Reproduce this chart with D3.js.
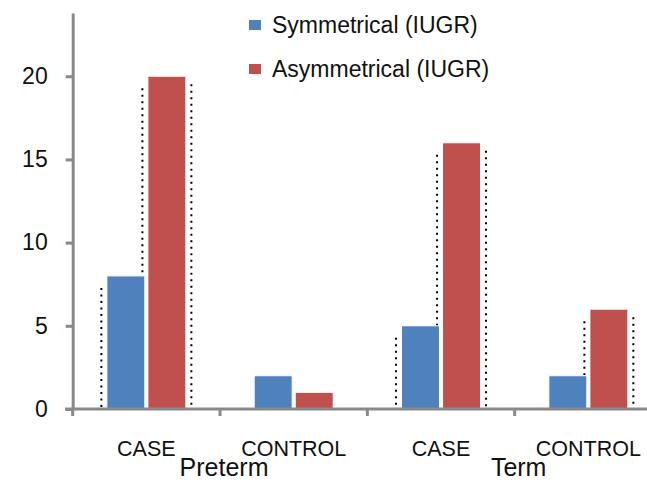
<!DOCTYPE html>
<html>
<head>
<meta charset="utf-8">
<script src="https://cdn.jsdelivr.net/npm/d3@7"></script>
<style>
  html, body { margin: 0; padding: 0; background: #fff; }
  svg { display: block; font-family: "Liberation Sans", Arial, sans-serif; }
</style>
</head>
<body>
<svg id="chart" width="647" height="483"></svg>
<script>
// ---- data ----
const groups = ["Preterm", "Term"];
const categories = ["Preterm|CASE", "Preterm|CONTROL", "Term|CASE", "Term|CONTROL"];
const categoryLabels = ["CASE", "CONTROL", "CASE", "CONTROL"];
const seriesNames = ["Symmetrical (IUGR)", "Asymmetrical (IUGR)"];
const symmetrical = [8, 2, 5, 2];
const asymmetrical = [20, 1, 16, 6];
const yTicks = [0, 5, 10, 15, 20];
const yMax = 23.8;

// ---- layout ----
const colors = ["#4F81BD", "#C0504D"];
const svg = d3.select("#chart");
const axisColor = "#898989";
const x0 = d3.scaleBand().domain(categories).range([72.7, 662]).paddingInner(0).paddingOuter(0);
const x1 = d3.scaleBand().domain(seriesNames)
  .range([x0.bandwidth() / 2 - 39.5, x0.bandwidth() / 2 + 39.5]).paddingInner(0.075).paddingOuter(0);
const y = d3.scaleLinear().domain([0, yMax]).range([409, 13]);

const rows = categories.map((c, i) => ({
  cat: c,
  vals: [symmetrical[i], asymmetrical[i]].map((v, j) => ({ cat: c, s: seriesNames[j], v, j }))
}));

// dotted guide lines (behind bars)
const dotG = svg.append("g");
rows.forEach(r => {
  r.vals.forEach(d => {
    if (d.v < 5) return;
    const left = x0(d.cat) + x1(d.s) - 5.5;
    const right = x0(d.cat) + x1(d.s) + x1.bandwidth() + 5.5;
    [[left, 12], [right, 8]].forEach(([xx, off]) => {
      dotG.append("line")
        .attr("x1", xx).attr("x2", xx)
        .attr("y1", y(d.v) + off).attr("y2", y(0))
        .attr("stroke", "#000").attr("stroke-width", 2)
        .attr("stroke-dasharray", "2 4.5");
    });
  });
});

// bars
const barG = svg.append("g");
rows.forEach(r => {
  barG.selectAll(null).data(r.vals).enter().append("rect")
    .attr("x", d => x0(d.cat) + x1(d.s))
    .attr("y", d => y(d.v))
    .attr("width", x1.bandwidth())
    .attr("height", d => y(0) - y(d.v))
    .attr("fill", d => colors[d.j])
    .attr("stroke", "#fff").attr("stroke-width", 1);
});

// y axis
const yAxis = svg.append("g").attr("transform", "translate(72.7,0)")
  .call(d3.axisLeft(y).tickValues(yTicks).tickSize(7).tickPadding(18).tickSizeOuter(0));
yAxis.select(".domain").attr("stroke", axisColor).attr("stroke-width", 3);
yAxis.selectAll(".tick line").attr("stroke", axisColor).attr("stroke-width", 3);
yAxis.selectAll(".tick text").attr("font-size", 23).attr("fill", "#111")
  .attr("font-family", "Liberation Sans, Arial, sans-serif");

// x axis
const xg = svg.append("g");
xg.append("line").attr("x1", 65).attr("x2", 647).attr("y1", y(0)).attr("y2", y(0))
  .attr("stroke", axisColor).attr("stroke-width", 3);
xg.selectAll("line.tk").data(categories).enter().append("line").attr("class", "tk")
  .attr("x1", d => x0(d)).attr("x2", d => x0(d))
  .attr("y1", y(0)).attr("y2", y(0) + 7)
  .attr("stroke", axisColor).attr("stroke-width", 3);
xg.selectAll("text.cat").data(categories).enter().append("text").attr("class", "cat")
  .attr("x", d => x0(d) + x0.bandwidth() / 2)
  .attr("y", 456)
  .attr("text-anchor", "middle").attr("font-size", 21.5).attr("fill", "#111")
  .text((d, i) => categoryLabels[i]);
xg.selectAll("text.grp").data(groups).enter().append("text").attr("class", "grp")
  .attr("x", g => {
    const cs = categories.filter(c => c.startsWith(g + "|"));
    return (x0(cs[0]) + x0(cs[cs.length - 1]) + x0.bandwidth()) / 2 + 4;
  })
  .attr("y", 476)
  .attr("text-anchor", "middle").attr("font-size", 25).attr("fill", "#111")
  .text(g => g);

// legend
const lg = svg.append("g");
seriesNames.forEach((s, i) => {
  const cy = 25 + i * 44;
  lg.append("rect").attr("x", 249).attr("y", cy - 5).attr("width", 12).attr("height", 10)
    .attr("fill", colors[i]);
  lg.append("text").attr("x", 272).attr("y", cy).attr("dy", "0.35em")
    .attr("font-size", 23).attr("fill", "#111").text(s);
});
</script>
</body>
</html>
